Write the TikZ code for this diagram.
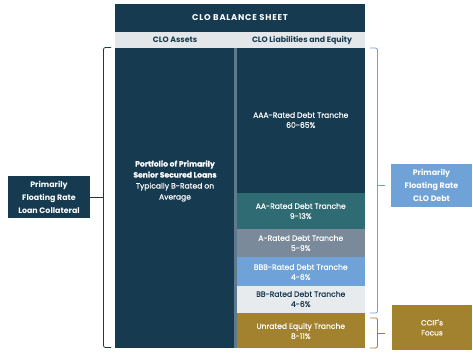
\documentclass[tikz,border=0pt]{standalone}
\usepackage{fontspec}
\setmainfont{Poppins}
\newfontfamily\medfont[FakeBold=0.5]{Poppins}
\newfontfamily\ttlfont[LetterSpace=9]{Poppins}
\definecolor{navy}{HTML}{163A4F}
\definecolor{hdr}{HTML}{E3E7EA}
\definecolor{teal}{HTML}{2F6B72}
\definecolor{slate}{HTML}{7A8A9A}
\definecolor{sky}{HTML}{6FA2D6}
\definecolor{pale}{HTML}{E8EBEE}
\definecolor{gold}{HTML}{A3822F}
\definecolor{divln}{HTML}{5F7A8C}
\begin{document}
\begin{tikzpicture}[x=1pt,y=-1pt,
  lbl/.style={align=center,font=\fontsize{7.6}{10}\medfont,text=white,inner sep=0pt},
  sidebox/.style={align=center,font=\fontsize{7.9}{13}\selectfont\bfseries,text=white,inner sep=0pt},
  brace/.style={line width=0.8pt,rounded corners=2pt}]
\useasboundingbox (0,0) rectangle (473,354);
% title and header
\fill[navy] (115,4) rectangle (365,32);
\node[text=white,font=\fontsize{8.4}{9}\ttlfont\bfseries] (title) at (240,18) {CLO BALANCE SHEET};
\fill[hdr] (115,32) rectangle (365,47.5);
\node[text=navy,font=\fontsize{7.8}{8}\selectfont\bfseries] (hassets) at (175,40) {CLO Assets};
\node[text=navy,font=\fontsize{7.8}{8}\selectfont\bfseries] (hliab) at (302,40) {CLO Liabilities and Equity};
% assets column
\fill[navy] (115,47.5) rectangle (234,348);
\node[lbl,font=\fontsize{7.6}{11}\medfont] (assets) at (175,181) {\bfseries Portfolio of Primarily\\\bfseries Senior Secured Loans\\Typically B-Rated on\\Average};
\fill[divln] (234,47.5) rectangle (236.5,348);
% tranches
\fill[navy] (236.5,47.5) rectangle (365,193);
\node[lbl] (aaa) at (300.75,120) {AAA-Rated Debt Tranche\\60-65\%};
\fill[teal] (236.5,193) rectangle (365,229);
\node[lbl] (aa) at (300.75,211) {AA-Rated Debt Tranche\\9-13\%};
\fill[slate] (236.5,229) rectangle (365,257);
\node[lbl] (a) at (300.75,243) {A-Rated Debt Tranche\\5-9\%};
\fill[sky] (236.5,257) rectangle (365,286);
\node[lbl] (bbb) at (300.75,272) {BBB-Rated Debt Tranche\\4-6\%};
\fill[pale] (236.5,286) rectangle (365,313);
\node[lbl,text=navy] (bb) at (300.75,299) {BB-Rated Debt Tranche\\4-6\%};
\fill[gold] (236.5,313) rectangle (365,348);
\node[lbl] (eq) at (300.75,331) {Unrated Equity Tranche\\8-11\%};
% side boxes
\node[sidebox,fill=navy,minimum width=82pt,minimum height=42pt] (coll) at (49,197) {Primarily\\Floating Rate\\Loan Collateral};
\node[sidebox,fill=sky,minimum width=81pt,minimum height=43pt] (debt) at (431.5,185.5) {Primarily\\Floating Rate\\CLO Debt};
\node[sidebox,fill=gold,minimum width=80pt,minimum height=45pt,font=\fontsize{7.4}{10}\medfont] (focus) at (432,327.5) {CCIF's\\Focus};
% braces
\coordinate (lt) at (111,47.5);
\coordinate (lb) at (111,347.5);
\draw[brace,navy] (lt) -- (103.5,47.5) -- (103.5,197) -- (103.5,347.5) -- (lb);
\draw[navy,line width=0.8pt] (103.5,197) -- (coll.east);
\coordinate (rt) at (370,48);
\coordinate (rb) at (370,313);
\draw[brace,sky] (rt) -- (377.5,48) -- (377.5,313) -- (rb);
\draw[sky,line width=0.8pt] (377.5,185.5) -- (385,185.5);
\coordinate (gt) at (370,318);
\coordinate (gb) at (370,348);
\draw[brace,gold] (gt) -- (377.5,318) -- (377.5,348) -- (gb);
\draw[gold,line width=0.8pt] (377.5,333) -- (385,333);
\end{tikzpicture}
\end{document}
